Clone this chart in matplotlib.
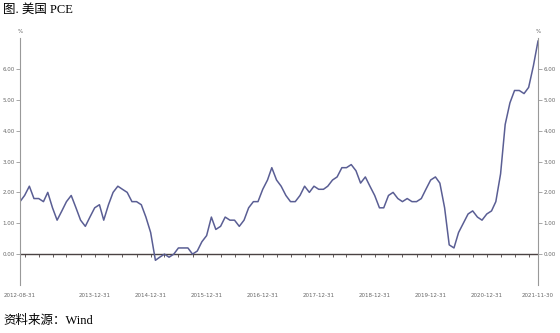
import matplotlib.pyplot as plt
import pandas as pd
import numpy as np

# 美国 PCE 同比 (%), 月度 2012-08 ~ 2021-11
pce = [1.7, 1.9, 2.2, 1.8, 1.8, 1.7, 2.0, 1.5, 1.1, 1.4, 1.7, 1.9,
       1.5, 1.1, 0.9, 1.2, 1.5, 1.6, 1.1, 1.6, 2.0, 2.2, 2.1, 2.0,
       1.7, 1.7, 1.6, 1.2, 0.7, -0.2, -0.1, 0.0, -0.1, 0.0, 0.2, 0.2,
       0.2, 0.0, 0.1, 0.4, 0.6, 1.2, 0.8, 0.9, 1.2, 1.1, 1.1, 0.9,
       1.1, 1.5, 1.7, 1.7, 2.1, 2.4, 2.8, 2.4, 2.2, 1.9, 1.7, 1.7,
       1.9, 2.2, 2.0, 2.2, 2.1, 2.1, 2.2, 2.4, 2.5, 2.8, 2.8, 2.9,
       2.7, 2.3, 2.5, 2.2, 1.9, 1.5, 1.5, 1.9, 2.0, 1.8, 1.7, 1.8,
       1.7, 1.7, 1.8, 2.1, 2.4, 2.5, 2.3, 1.5, 0.3, 0.2, 0.7, 1.0,
       1.3, 1.4, 1.2, 1.1, 1.3, 1.4, 1.7, 2.6, 4.2, 4.9, 5.3, 5.3,
       5.2, 5.4, 6.1, 6.9]
dates = pd.date_range('2012-08-31', periods=len(pce), freq='ME')

tick_labels = ['2012-08-31', '2013-12-31', '2014-12-31', '2015-12-31', '2016-12-31',
               '2017-12-31', '2018-12-31', '2019-12-31', '2020-12-31', '2021-11-30']
y_ticks = [0, 1, 2, 3, 4, 5, 6]

fig = plt.figure(figsize=(5.6, 3.33), dpi=100)
ax = fig.add_axes([20 / 560, 1 - 285 / 333, 518 / 560, 247 / 333])

ax.plot(dates, pce, color='#5a5e94', lw=1.1)

# 零轴与季度刻度
ax.axhline(0, color='#4a4242', lw=1.0, zorder=1)
q_dates = dates[dates.month % 3 == 0]
ax.vlines(q_dates, -0.09, 0, color='#4a4242', lw=0.6)

ax.set_xlim(dates[0], dates[-1])
ax.set_ylim(-1.0, 7.0)

ax.set_xticks(pd.to_datetime(tick_labels))
ax.set_xticklabels(tick_labels)
ax.tick_params(axis='x', length=0, pad=6, labelsize=4, labelcolor='#666666')

ax.set_yticks(y_ticks)
ax.set_yticklabels(['%.2f' % v for v in y_ticks])
ax.tick_params(axis='y', length=3, width=0.6, color='#999999', pad=1,
               labelsize=4, labelcolor='#666666', right=True, labelright=True)

for s in ['top', 'bottom']:
    ax.spines[s].set_visible(False)
for s in ['left', 'right']:
    ax.spines[s].set_color('#999999')
    ax.spines[s].set_linewidth(0.8)

ax.text(0, 1.015, '%', transform=ax.transAxes, fontsize=4, color='#666666', ha='center', va='bottom')
ax.text(1, 1.015, '%', transform=ax.transAxes, fontsize=4, color='#666666', ha='center', va='bottom')

fam = ['Liberation Serif', 'Noto Sans CJK SC']
fig.text(3 / 560, 1 - 10 / 333, '图. 美国 PCE', family=fam, fontsize=9, va='center', ha='left')
fig.text(3 / 560, 1 - 321 / 333, '资料来源：Wind', family=fam, fontsize=9, va='center', ha='left')

fig.savefig('out.png', dpi=100)
